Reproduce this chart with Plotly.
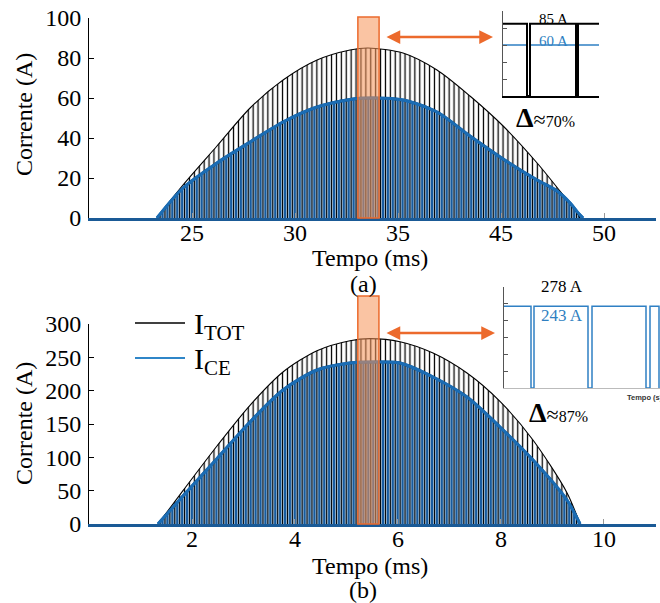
import plotly.graph_objects as go

# ---------------- data ----------------
# Panel (a): envelope of the pulsed currents, time in ms (axis units), current in A
tot_a_t = [23.30, 24.56, 26.21, 27.82, 29.42, 31.07, 32.67, 33.55, 35.24, 36.89, 38.49, 40.10, 41.75, 43.01, 43.69, 43.83]
tot_a_v = [0, 16.5, 36, 55, 69, 79, 84, 85, 82.5, 74, 61, 46, 27.5, 11.5, 2.5, 0]
ce_a_t = [23.30, 24.56, 26.21, 27.82, 29.42, 31.07, 32.67, 33.80, 35.24, 36.89, 38.49, 40.10, 41.75, 42.72, 43.35, 43.74, 43.98]
ce_a_v = [0, 15, 27.5, 38, 48, 55.5, 59.3, 60, 59, 53, 41, 29.5, 19, 13.5, 7.5, 2.5, 0]

# Panel (b)
tot_b_t = [1.34, 1.825, 2.485, 3.126, 3.767, 4.427, 5.068, 5.456, 6.039, 6.680, 7.340, 7.980, 8.621, 9.281, 9.534]
tot_b_v = [0, 50, 117, 178, 228, 260, 275, 278, 273.5, 256.5, 226.5, 184, 126, 47, 0]
ce_b_t = [1.34, 1.825, 2.485, 3.126, 3.767, 4.427, 5.068, 5.592, 6.039, 6.680, 7.340, 7.980, 8.621, 9.281, 9.534]
ce_b_v = [0, 42, 98, 153, 201, 231, 241.5, 243, 241.5, 220.5, 190.5, 145.5, 96, 36, 0]

# zoom windows (orange boxes), ms
win_a = [33.05, 34.08]
win_b = [5.22, 5.63]

# inset (a): one switching detail, time in us
ins_a_t = [0, 120, 135, 365, 375, 480]
ins_a_tot = [85, 0, 85, 0, 85, 85]
ins_a_ce = [60, 0, 60, 0, 60, 60]
# inset (b)
ins_b_t = [0, 27, 30, 84, 88, 142, 146, 155]
ins_b_ce = [243, 0, 243, 0, 243, 0, 243, 0]

# tick labels
xt_a_vals = [25, 30, 35, 40, 45]
xt_a_text = ["25", "30", "35", "45", "50"]
xt_b_vals = [2, 4, 6, 8, 10]
yt_a_vals = [0, 20, 40, 60, 80, 100]
yt_b_vals = [0, 50, 100, 150, 200, 250, 300]

# ---------------- styling ----------------
W, H = 660, 603
SERIF = "Liberation Serif"
BLUE = "#1b6cb3"
BLUE_DARK = "#165b9f"
BLUE_LIGHT = "#a9cdec"
ORANGE = "#ec6a2c"


def px(x):
    return x / W


def py(y):
    return 1 - y / H


fig = go.Figure()


def add_panel(xa, ya, tt, tv, ct, cv):
    # blue (I_CE) filled region with light stripes
    fig.add_trace(go.Scatter(
        x=ct, y=cv, xaxis=xa, yaxis=ya, mode="lines",
        line=dict(color=BLUE, width=3, shape="spline", smoothing=0.8),
        fill="tozeroy", fillcolor=BLUE_DARK,
        fillpattern=dict(shape="|", size=4.9, solidity=0.6,
                         fgcolor=BLUE_LIGHT, bgcolor=BLUE_DARK, fgopacity=1),
        hoverinfo="skip", showlegend=False))
    # black (I_TOT) pulses: vertical lines under envelope
    fig.add_trace(go.Scatter(
        x=tt, y=tv, xaxis=xa, yaxis=ya, mode="lines",
        line=dict(color="black", width=1.1, shape="spline", smoothing=0.8),
        fill="tozeroy", fillcolor="rgba(0,0,0,0)",
        fillpattern=dict(shape="|", size=4.9, solidity=0.26,
                         fgcolor="black", bgcolor="rgba(0,0,0,0)", fgopacity=1),
        hoverinfo="skip", showlegend=False))
    # redraw blue envelope line on top
    fig.add_trace(go.Scatter(
        x=ct, y=cv, xaxis=xa, yaxis=ya, mode="lines",
        line=dict(color=BLUE, width=3, shape="spline", smoothing=0.8),
        hoverinfo="skip", showlegend=False))


add_panel("x", "y", tot_a_t, tot_a_v, ce_a_t, ce_a_v)
add_panel("x2", "y2", tot_b_t, tot_b_v, ce_b_t, ce_b_v)

# insets
fig.add_trace(go.Scatter(x=ins_a_t, y=ins_a_ce, xaxis="x3", yaxis="y3", mode="lines",
                         line=dict(color="#2f80c4", width=1.5, shape="hv"),
                         hoverinfo="skip", showlegend=False))
fig.add_trace(go.Scatter(x=ins_a_t, y=ins_a_tot, xaxis="x3", yaxis="y3", mode="lines",
                         line=dict(color="black", width=2, shape="hv"),
                         hoverinfo="skip", showlegend=False))
fig.add_trace(go.Scatter(x=ins_b_t, y=ins_b_ce, xaxis="x4", yaxis="y4", mode="lines",
                         line=dict(color="#2f80c4", width=1.5, shape="hv"),
                         hoverinfo="skip", showlegend=False))

tickfont = dict(family=SERIF, size=24, color="black")

main_x = dict(showline=True, linecolor="#1a5a96", linewidth=2.5, ticks="inside", ticklen=5,
              tickcolor="#999", tickwidth=1, showgrid=False, zeroline=False, automargin=False,
              tickfont=tickfont, domain=[px(89), px(656)], ticklabelstandoff=-9)
main_y = dict(showline=True, linecolor="black", linewidth=1, ticks="inside", ticklen=5,
              tickcolor="black", tickwidth=1, showgrid=False, zeroline=False, automargin=False,
              tickfont=tickfont, ticklabelstandoff=2)
inset_common = dict(showgrid=False, zeroline=False, automargin=False, showticklabels=False)

fig.update_layout(
    width=W, height=H, margin=dict(l=0, r=0, t=0, b=0, autoexpand=False),
    paper_bgcolor="white", plot_bgcolor="rgba(0,0,0,0)", showlegend=False,
    xaxis=dict(main_x, range=[20, 47.52], tickvals=xt_a_vals, ticktext=xt_a_text, anchor="y"),
    yaxis=dict(main_y, range=[0, 100], tickvals=yt_a_vals, anchor="x",
               domain=[py(218), py(18)]),
    xaxis2=dict(main_x, range=[0, 11.01], tickvals=xt_b_vals, anchor="y2"),
    yaxis2=dict(main_y, range=[0, 300], tickvals=yt_b_vals, anchor="x2",
                domain=[py(524), py(324)]),
    xaxis3=dict(inset_common, domain=[px(503), px(599)], range=[0, 480], anchor="y3",
                showline=True, linecolor="black", linewidth=2, ticks=""),
    yaxis3=dict(inset_common, domain=[py(96), py(11)], range=[0, 100], dtick=20, anchor="x3",
                showline=True, linecolor="#555", linewidth=1, ticks="inside", ticklen=4,
                tickcolor="#555"),
    xaxis4=dict(inset_common, domain=[px(504), 1.0], range=[0, 156], anchor="y4",
                showline=True, linecolor="#bbb", linewidth=1, ticks=""),
    yaxis4=dict(inset_common, domain=[py(388), py(287)], range=[0, 300], dtick=50, anchor="x4",
                showline=True, linecolor="#555", linewidth=1, ticks="inside", ticklen=4,
                tickcolor="#555"),
)

# orange zoom boxes (top slightly above the plotting area)
fig.add_shape(type="rect", xref="x", yref="y domain", x0=win_a[0], x1=win_a[1], y0=0, y1=1.005,
              fillcolor="rgba(246,148,88,0.55)", line=dict(color=ORANGE, width=1.5), layer="above")
fig.add_shape(type="rect", xref="x2", yref="y2 domain", x0=win_b[0], x1=win_b[1], y0=0, y1=1.14,
              fillcolor="rgba(246,148,88,0.55)", line=dict(color=ORANGE, width=1.5), layer="above")

# legend (panel b)
fig.add_shape(type="line", xref="paper", yref="paper", x0=px(135), x1=px(185),
              y0=py(323), y1=py(323), line=dict(color="black", width=1.5))
fig.add_shape(type="line", xref="paper", yref="paper", x0=px(135), x1=px(185),
              y0=py(358), y1=py(358), line=dict(color="#2f86c8", width=2))

ann = []


def text(x, y, s, size=24, color="black", xanchor="center", family=SERIF, angle=0):
    ann.append(dict(x=px(x), y=py(y), xref="paper", yref="paper", text=s, showarrow=False,
                    xanchor=xanchor, yanchor="middle", textangle=angle,
                    font=dict(family=family, size=size, color=color)))


text(370, 258, "Tempo (ms)")
text(363, 284, "(a)")
text(370, 566, "Tempo (ms)")
text(363, 590, "(b)")
text(24, 115, "Corrente (A)", angle=-90)
text(24, 424, "Corrente (A)", angle=-90)
text(192, 326, "I<sub>TOT</sub>", size=30, xanchor="left")
text(192, 361, "I<sub>CE</sub>", size=30, xanchor="left")

text(553, 19, "85 A", size=15)
text(553, 41, "60 A", size=15, color="#2f7fc1")
text(562, 286, "278 A", size=17)
text(562, 316, "243 A", size=17, color="#2f7fc1")
text(625, 397, "<b>Tempo (s)</b>", size=7.5, xanchor="left", family="Liberation Sans", color="#333")
text(514, 117, "<b>Δ</b><span style='font-size:22px'>≈</span><span style='font-size:16px'>70%</span>",
     size=28, xanchor="left")
text(527, 412, "<b>Δ</b><span style='font-size:22px'>≈</span><span style='font-size:16px'>87%</span>",
     size=28, xanchor="left")

# double-headed arrows
for x_head, x_tail, y in ((493, 385, 37), (495, 385, 333)):
    ann.append(dict(x=px(x_head), y=py(y), xref="paper", yref="paper", text="",
                    showarrow=True, ax=-(x_head - x_tail), ay=0, axref="pixel", ayref="pixel",
                    arrowhead=2, arrowside="end+start", arrowsize=1.1, arrowwidth=2.5,
                    arrowcolor=ORANGE, standoff=0, startstandoff=0))

fig.update_layout(annotations=ann)
fig.write_html("out.html", config={"displayModeBar": False},
               post_script="document.body.style.margin='0px';")
